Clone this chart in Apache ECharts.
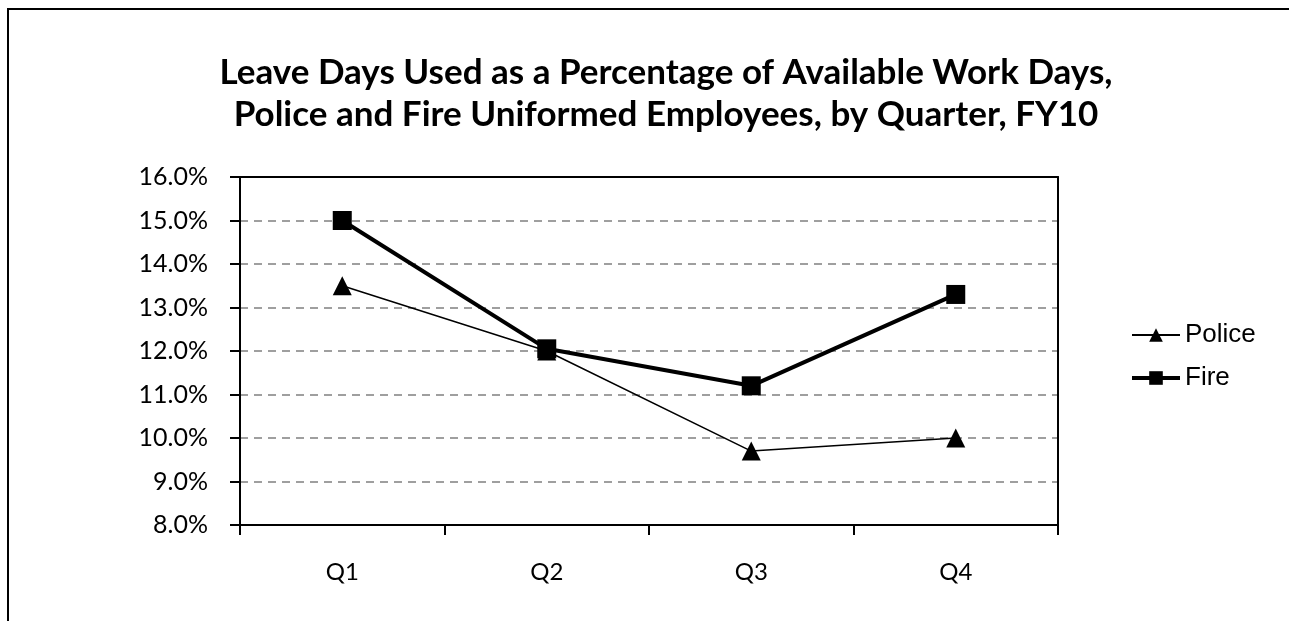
<!DOCTYPE html>
<html>
<head>
<meta charset="utf-8">
<script src="https://cdn.jsdelivr.net/npm/echarts@6/dist/echarts.min.js"></script>
<style>
  html, body { margin: 0; padding: 0; background: #fff; }
  #frame { position: absolute; left: 7px; top: 8px; width: 1300px; height: 640px;
           border-top: 2px solid #000; border-left: 2px solid #000; }
  #main { position: absolute; left: 0; top: 0; width: 1289px; height: 621px; }
</style>
</head>
<body>
<div id="frame"></div>
<div id="main"></div>
<script>
var quarters = ['Q1', 'Q2', 'Q3', 'Q4'];
var police = [13.5, 12.0, 9.7, 10.0];
var fire = [15.0, 12.05, 11.2, 13.3];

var labelFont = 'Lato, "Open Sans", sans-serif';
var myChart = echarts.init(document.getElementById('main'));
var option = {
    animation: false,
    title: {
        text: 'Leave Days Used as a Percentage of Available Work Days,\nPolice and Fire Uniformed Employees, by Quarter, FY10',
        left: 661,
        textAlign: 'center',
        top: 47,
        textStyle: {
            fontFamily: labelFont,
            fontWeight: 'bold',
            fontSize: 35,
            lineHeight: 42,
            color: '#000'
        }
    },
    legend: {
        orient: 'vertical',
        left: 1125,
        top: 317,
        itemWidth: 48,
        itemHeight: 17,
        itemGap: 17,
        textStyle: { fontFamily: '"Liberation Sans", Arial, sans-serif', fontSize: 26, color: '#000' },
        data: [
            { name: 'Police', lineStyle: { width: 2 } },
            { name: 'Fire', lineStyle: { width: 4 } }
        ]
    },
    grid: { left: 240, top: 177, right: 231, bottom: 96 },
    xAxis: [
        {
            type: 'category',
            data: quarters,
            boundaryGap: true,
            axisLine: { lineStyle: { color: '#000', width: 2 } },
            axisTick: { show: true, length: 10, lineStyle: { color: '#000', width: 2 } },
            axisLabel: { margin: 35, fontFamily: labelFont, fontSize: 24, color: '#000' }
        },
        {
            type: 'category',
            data: quarters,
            position: 'top',
            axisLine: { show: true, lineStyle: { color: '#000', width: 2 } },
            axisTick: { show: false },
            axisLabel: { show: false }
        }
    ],
    yAxis: [
        {
            type: 'value',
            min: 8, max: 16, interval: 1,
            axisLine: { show: true, lineStyle: { color: '#000', width: 2 } },
            axisTick: { show: true, length: 10, lineStyle: { color: '#000', width: 2 } },
            axisLabel: {
                margin: 32,
                fontFamily: labelFont, fontSize: 25, color: '#000',
                formatter: function (v) { return v.toFixed(1) + '%'; }
            },
            splitLine: { show: true, lineStyle: { color: '#808080', width: 1.5, type: [8, 6] } }
        },
        {
            type: 'value',
            min: 8, max: 16, interval: 1,
            position: 'right',
            axisLine: { show: true, lineStyle: { color: '#000', width: 2 } },
            axisTick: { show: false },
            axisLabel: { show: false },
            splitLine: { show: false }
        }
    ],
    series: [
        {
            name: 'Police',
            type: 'line',
            data: police,
            symbol: 'triangle',
            symbolSize: 19,
            lineStyle: { color: '#000', width: 1.5 },
            itemStyle: { color: '#000' }
        },
        {
            name: 'Fire',
            type: 'line',
            data: fire,
            symbol: 'rect',
            symbolSize: 19,
            lineStyle: { color: '#000', width: 4 },
            itemStyle: { color: '#000' }
        }
    ]
};
myChart.setOption(option);
</script>
</body>
</html>
